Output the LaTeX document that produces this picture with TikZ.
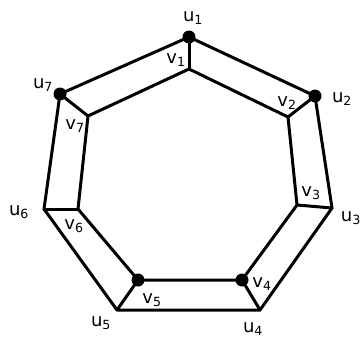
\documentclass[tikz,border=0pt]{standalone}
\usepackage{fontspec}
\setmainfont{DejaVu Sans}
\usetikzlibrary{positioning}
\newcommand{\lab}[2]{#1\textsubscript{#2}}

\begin{document}
\begin{tikzpicture}[x=1pt, y=-1pt,
    vtx/.style={inner sep=0pt, minimum size=0pt},
    dot/.style={circle, fill=black, inner sep=0pt, minimum size=13pt},
    edge/.style={line width=3pt, line cap=round, line join=round},
    tag/.style={font=\fontsize{18}{18}\selectfont, inner sep=0pt}]
    \useasboundingbox (0,0) rectangle (361,345);

    % outer vertices
    \node[vtx] (u1) at (189, 37) {};
    \node[vtx] (u2) at (315, 96) {};
    \node[vtx] (u3) at (332, 208) {};
    \node[vtx] (u4) at (260, 310) {};
    \node[vtx] (u5) at (117, 310) {};
    \node[vtx] (u6) at (44, 209) {};
    \node[vtx] (u7) at (60, 94) {};

    % inner vertices
    \node[vtx] (v1) at (189, 69) {};
    \node[vtx] (v2) at (288, 117) {};
    \node[vtx] (v3) at (297, 205) {};
    \node[vtx] (v4) at (242, 280) {};
    \node[vtx] (v5) at (138, 280) {};
    \node[vtx] (v6) at (78, 209) {};
    \node[vtx] (v7) at (88, 116) {};

    % cycles and spokes
    \draw[edge] (u1.center) -- (u2.center) -- (u3.center) -- (u4.center)
        -- (u5.center) -- (u6.center) -- (u7.center) -- cycle;
    \draw[edge] (v1.center) -- (v2.center) -- (v3.center) -- (v4.center)
        -- (v5.center) -- (v6.center) -- (v7.center) -- cycle;
    \foreach \i in {1,...,7} {
        \draw[edge] (u\i.center) -- (v\i.center);
    }

    % black dots
    \foreach \p in {u1, u2, u7, v4, v5} {
        \node[dot] at (\p) {};
    }

    % labels
    \node[tag] (lu1) at (193, 18) {\lab{u}{1}};
    \node[tag] (lu2) at (342, 99) {\lab{u}{2}};
    \node[tag, anchor=east] (lu3) at (361, 218) {\lab{u}{3}};
    \node[tag] (lu4) at (253, 329) {\lab{u}{4}};
    \node[tag] (lu5) at (101, 323) {\lab{u}{5}};
    \node[tag] (lu6) at (19, 212) {\lab{u}{6}};
    \node[tag] (lu7) at (43, 85) {\lab{u}{7}};
    \node[tag] (lv1) at (176, 60) {\lab{v}{1}};
    \node[tag] (lv2) at (287, 103) {\lab{v}{2}};
    \node[tag] (lv3) at (311, 193) {\lab{v}{3}};
    \node[tag] (lv4) at (262, 284) {\lab{v}{4}};
    \node[tag] (lv5) at (152, 300) {\lab{v}{5}};
    \node[tag] (lv6) at (74, 226) {\lab{v}{6}};
    \node[tag] (lv7) at (75, 126) {\lab{v}{7}};
\end{tikzpicture}
\end{document}
